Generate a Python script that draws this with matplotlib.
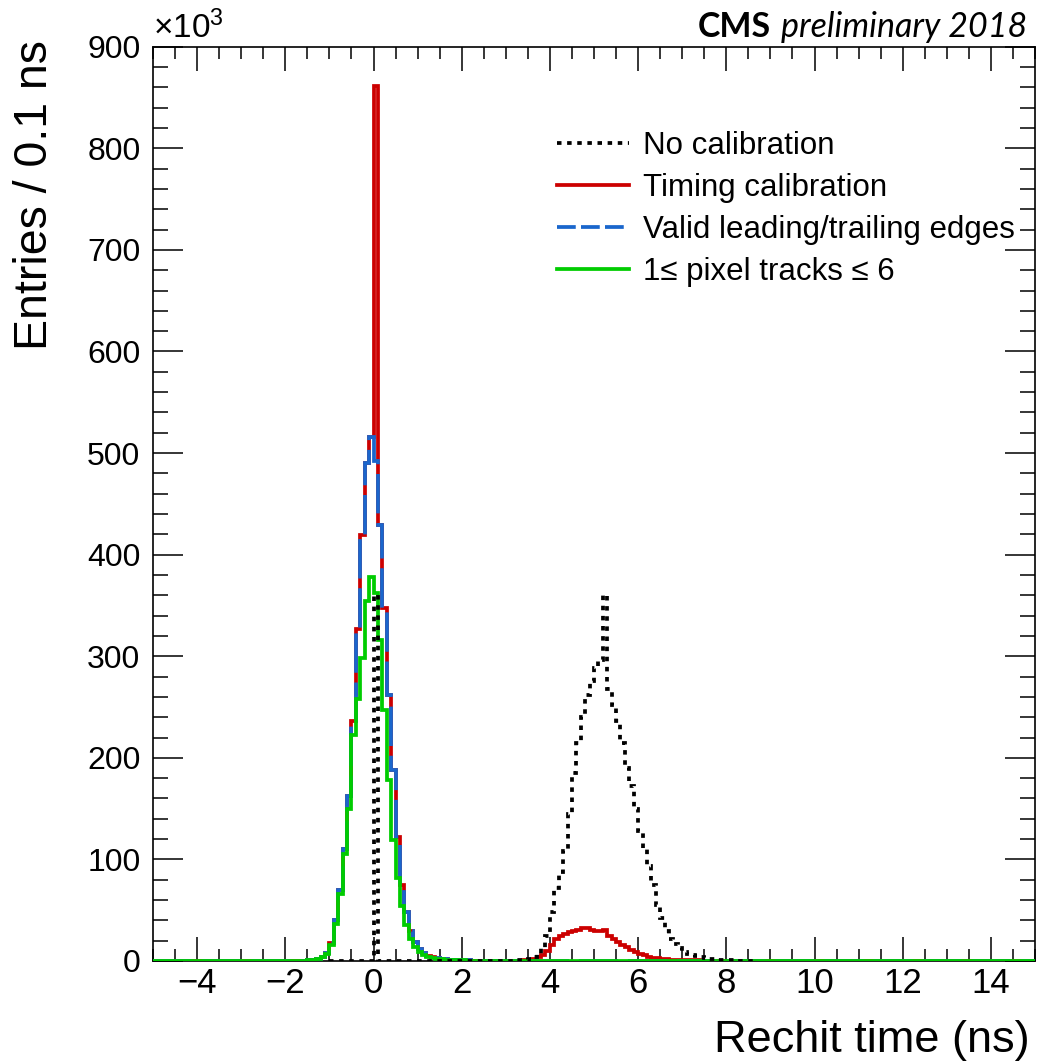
import numpy as np
import matplotlib
matplotlib.use("Agg")
import matplotlib.pyplot as plt
from matplotlib.lines import Line2D
from matplotlib.ticker import MultipleLocator

plt.rcParams["font.family"] = ["Liberation Sans", "DejaVu Sans"]
plt.rcParams["mathtext.fontset"] = "custom"
plt.rcParams["mathtext.rm"] = "Liberation Sans"
plt.rcParams["mathtext.it"] = "Liberation Sans:italic"

# ---- binning: 0.1 ns bins from -5 to 15 ns ----
BIN = 0.1
X_MIN, X_MAX = -5.0, 15.0

# ---- entries per bin (x10^3); each list starts at the given left bin edge ----
# No calibration
nocal_spike_start = 0.0
nocal_spike_vals = [360]
nocal_bump_start = 3.2
nocal_bump_vals = [0.5, 0.8, 1.2, 2, 3.5, 7, 13, 25, 48, 72, 88, 108, 145, 185,
                   215, 240, 262, 276, 288, 296, 360, 268, 252, 236, 215, 190,
                   172, 150, 128, 110, 94, 75, 55, 42, 30, 22, 17, 13, 9, 7,
                   5.5, 4.5, 3.5, 2.5, 2, 1.5, 1.1, 0.8, 0.6, 0.5, 0.4, 0.3,
                   0.2, 0.2]
nocal_range = (-1.0, 8.6)

# Timing calibration
timing_peak_start = -1.5
timing_peak_vals = [0.6, 1.0, 2.0, 4, 8, 18, 40, 70, 110, 162, 236, 327, 419,
                    490, 516, 861, 429, 347, 262, 188, 122, 75, 48, 30, 19, 12,
                    7.5, 5, 3.5, 2.6, 2.0, 1.6, 1.3, 1.0, 0.8, 0.6, 0.5, 0.4,
                    0.3]
timing_bump_start = 3.4
timing_bump_vals = [0.5, 1, 1.8, 3.5, 6, 10, 16, 22, 25, 27, 28.5, 30, 31, 32,
                    32, 31, 30, 29.5, 30.5, 25, 22, 19, 16, 13.5, 11, 9, 7, 5.5,
                    4.3, 3.4, 2.7, 2.1, 1.7, 1.4, 1.2, 1.0, 0.8, 0.7, 0.6, 0.5,
                    0.4, 0.35, 0.3, 0.25, 0.2, 0.2]

# Valid leading/trailing edges
valid_start = -1.5
valid_vals = [0.6, 1.0, 2.0, 4, 8, 18, 40, 70, 110, 162, 236, 327, 419, 490,
              516, 492, 429, 347, 262, 188, 122, 75, 48, 30, 19, 12, 7.5, 5,
              3.5, 2.6, 2.0, 1.6, 1.3, 1.0, 0.8, 0.6, 0.5, 0.4, 0.3]

# 1 <= pixel tracks <= 6
tracks_start = -1.5
tracks_vals = [0.5, 0.9, 1.8, 3.5, 7, 16, 36, 66, 105, 150, 222, 258, 298, 354,
               378, 362, 316, 247, 178, 119, 82, 54, 35, 22, 14, 9, 6, 4, 3,
               2.2, 1.7, 1.3, 1.0, 0.8, 0.6, 0.5, 0.4, 0.3]

legend_labels = ["No calibration", "Timing calibration",
                 "Valid leading/trailing edges", "1\u2264 pixel tracks \u2264 6"]

RED = "#cc0000"
BLUE = "#1a66cc"
GREEN = "#00cc00"
BLACK = "#000000"

edges = np.round(np.arange(X_MIN, X_MAX + BIN / 2, BIN), 2)
nbins = len(edges) - 1


def filled(*pieces):
    h = np.zeros(nbins)
    for start, vals in pieces:
        i0 = int(round((start - X_MIN) / BIN))
        h[i0:i0 + len(vals)] = vals
    return h


h_nocal = filled((nocal_spike_start, nocal_spike_vals),
                 (nocal_bump_start, nocal_bump_vals))
h_timing = filled((timing_peak_start, timing_peak_vals),
                  (timing_bump_start, timing_bump_vals))
h_valid = filled((valid_start, valid_vals))
h_tracks = filled((tracks_start, tracks_vals))

W, H = 1037, 1064
fig = plt.figure(figsize=(W / 100, H / 100), dpi=100)
L, R, T, B = 153, 1035, 46.7, 961
ax = fig.add_axes([L / W, 1 - B / H, (R - L) / W, (B - T) / H])

LW = 2.7
DOT = (0, (1.2, 1.5))
ax.stairs(h_timing, edges, color=RED, lw=LW, zorder=2)
ax.stairs(h_valid, edges, color=BLUE, lw=LW, zorder=3,
          linestyle=(0, (10.5, 2.6)))
ax.stairs(h_tracks, edges, color=GREEN, lw=LW, zorder=4)

# no-calibration histogram drawn over its recorded range only
i_lo = int(round((nocal_range[0] - X_MIN) / BIN))
i_hi = int(round((nocal_range[1] - X_MIN) / BIN))
ax.stairs(h_nocal[i_lo:i_hi], edges[i_lo:i_hi + 1], color=BLACK, lw=LW,
          zorder=5, linestyle=DOT, baseline=None)

ax.set_xlim(X_MIN, X_MAX)
ax.set_ylim(0, 900)

ax.xaxis.set_major_locator(MultipleLocator(2))
ax.xaxis.set_minor_locator(MultipleLocator(0.5))
ax.yaxis.set_major_locator(MultipleLocator(100))
ax.yaxis.set_minor_locator(MultipleLocator(20))
ax.tick_params(which="both", direction="in", top=True, right=True,
               width=1.1, colors="black")
ax.tick_params(axis="x", which="major", length=17, labelsize=25, pad=4)
ax.tick_params(axis="x", which="minor", length=8.6)
ax.tick_params(axis="y", which="major", length=21.6, labelsize=23, pad=9)
ax.tick_params(axis="y", which="minor", length=10.8)
for s in ax.spines.values():
    s.set_linewidth(1.2)

ax.text(0.0, 1.002, r"$\times10^{3}$", transform=ax.transAxes,
        fontsize=24, ha="left", va="bottom")

fig.text(35 / W, 1 - 40 / H, "Entries / 0.1 ns", rotation=90,
         fontsize=33.5, ha="center", va="top")
fig.text(1030 / W, 1 - 1020 / H, "Rechit time (ns)", fontsize=32.5,
         ha="right", va="top")

handles = [
    Line2D([], [], color=BLACK, lw=LW, linestyle=DOT),
    Line2D([], [], color=RED, lw=LW),
    Line2D([], [], color=BLUE, lw=LW, linestyle=(0, (5.0, 1.4))),
    Line2D([], [], color=GREEN, lw=LW),
]
leg = ax.legend(handles, legend_labels, loc="upper left",
                bbox_to_anchor=((557 - L) / (R - L), (B - 131) / (B - T)),
                frameon=False, fontsize=22.5, handlelength=2.3,
                handletextpad=0.45, labelspacing=0.38, borderpad=0,
                borderaxespad=0)

prelim = fig.text(1027 / W, 1 - 37 / H, "preliminary 2018", fontsize=24.5,
                  style="italic", family="Lato", ha="right", va="baseline")
ax.annotate("CMS", xy=(0, 0), xycoords=prelim, xytext=(-7, 0),
            textcoords="offset points", fontsize=24.5, weight="bold",
            family="Lato", ha="right", va="bottom")

fig.savefig("out.png", dpi=100)
